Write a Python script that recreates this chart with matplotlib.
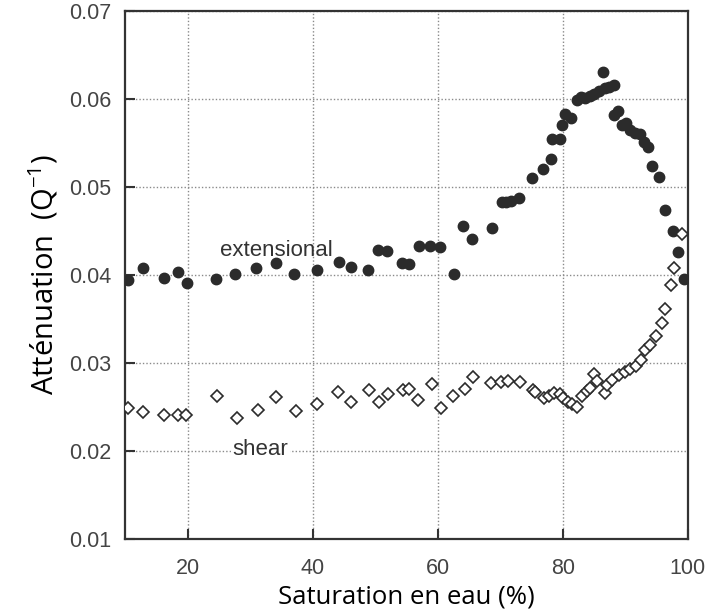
import numpy as np
import matplotlib
matplotlib.use('Agg')
import matplotlib.pyplot as plt

# extensional (points pleins)
ext_x = [10.4, 12.9, 16.2, 18.5, 19.9, 24.6, 27.6, 30.9, 34.2, 37.0,
         40.7, 44.2, 46.2, 48.8, 50.5, 51.9, 54.2, 55.4, 57.0, 58.8,
         60.3, 62.6, 64.0, 65.5, 68.6, 70.2, 70.9, 71.7, 73.0, 75.1,
         76.8, 78.1, 78.3, 79.6, 79.9, 80.4, 81.3, 82.2, 82.9, 83.6,
         84.3, 85.0, 85.8, 86.5, 86.7, 87.4, 88.1, 88.2, 88.8, 89.4,
         90.1, 90.8, 91.5, 92.4, 93.0, 93.6, 94.2, 95.4, 96.3, 97.6,
         98.4, 99.3]
ext_y = [0.0394, 0.0408, 0.0397, 0.0404, 0.0391, 0.0395, 0.0401, 0.0408, 0.0414, 0.0401,
         0.0406, 0.0415, 0.0409, 0.0406, 0.0428, 0.0427, 0.0414, 0.0413, 0.0433, 0.0433,
         0.0432, 0.0401, 0.0456, 0.0441, 0.0453, 0.0483, 0.0483, 0.0484, 0.0487, 0.0510,
         0.0520, 0.0532, 0.0555, 0.0555, 0.0571, 0.0583, 0.0578, 0.0599, 0.0602, 0.0601,
         0.0604, 0.0606, 0.0609, 0.0631, 0.0613, 0.0614, 0.0616, 0.0582, 0.0586, 0.0571,
         0.0573, 0.0565, 0.0562, 0.0560, 0.0551, 0.0545, 0.0524, 0.0511, 0.0474, 0.0450,
         0.0426, 0.0396]

# shear (losanges vides)
sh_x = [10.4, 12.9, 16.2, 18.5, 19.8, 24.7, 27.9, 31.3, 34.2, 37.3,
        40.7, 44.0, 46.2, 49.0, 50.6, 52.1, 54.5, 55.4, 56.9, 59.0,
        60.5, 62.5, 64.3, 65.6, 68.5, 70.1, 71.2, 73.1, 75.2, 75.5,
        77.0, 77.8, 78.6, 79.6, 80.1, 80.9, 81.5, 82.3, 83.1, 83.9,
        84.3, 85.0, 85.4, 86.7, 87.1, 87.9, 89.0, 90.0, 90.8, 91.7,
        92.5, 93.2, 94.0, 94.9, 95.8, 96.3, 97.3, 97.8, 99.0]
sh_y = [0.0249, 0.0244, 0.0241, 0.0241, 0.0241, 0.0263, 0.0238, 0.0247, 0.0261, 0.0246,
        0.0254, 0.0267, 0.0256, 0.0269, 0.0256, 0.0265, 0.0269, 0.0271, 0.0258, 0.0276,
        0.0249, 0.0262, 0.0271, 0.0284, 0.0277, 0.0279, 0.0280, 0.0279, 0.0269, 0.0267,
        0.0260, 0.0262, 0.0266, 0.0265, 0.0260, 0.0256, 0.0254, 0.0250, 0.0262, 0.0268,
        0.0272, 0.0287, 0.0280, 0.0266, 0.0275, 0.0281, 0.0286, 0.0290, 0.0293, 0.0297,
        0.0303, 0.0315, 0.0321, 0.0331, 0.0346, 0.0361, 0.0389, 0.0408, 0.0447]

x_ticks = [20, 40, 60, 80, 100]
y_ticks = [0.01, 0.02, 0.03, 0.04, 0.05, 0.06, 0.07]

plt.rcParams['mathtext.default'] = 'regular'

fig = plt.figure(figsize=(7.07, 6.16), dpi=100)
ax = fig.add_axes([0.177, 0.125, 0.796, 0.857])

ax.plot(ext_x, ext_y, 'o', ms=7.5, color='#2b2b2b', mec='#2b2b2b', zorder=3)
ax.plot(sh_x, sh_y, 'D', ms=5.8, mfc='white', mec='#2b2b2b', mew=1.2, zorder=3)

ax.set_xlim(10, 100)
ax.set_ylim(0.01, 0.07)
ax.set_xticks(x_ticks)
ax.set_yticks(y_ticks)
ax.set_yticklabels(['%.2f' % v for v in y_ticks])
ax.grid(True, linestyle=(0, (1, 1.5)), color='#8a8a8a', linewidth=1)
ax.set_axisbelow(True)
for s in ax.spines.values():
    s.set_linewidth(1.6)
    s.set_color('#333333')
ax.tick_params(direction='in', length=7, width=1.5, color='#333333',
               labelsize=15.5, labelcolor='#444444')
ax.tick_params(axis='x', pad=14)
ax.tick_params(axis='y', pad=10)
for lab in ax.get_xticklabels() + ax.get_yticklabels():
    lab.set_family('Liberation Sans')

ax.text(25.2, 0.0428, 'extensional', fontsize=16, family='Liberation Sans',
        color='#333333', va='center', ha='left')
ax.text(27.2, 0.0202, 'shear', fontsize=16, family='Liberation Sans',
        color='#333333', va='center', ha='left',
        bbox=dict(facecolor='white', edgecolor='none', pad=1))

ax.set_xlabel('Saturation en eau (%)', fontsize=18.5, family='Open Sans', labelpad=4)
ax.set_ylabel('Atténuation  (Q$^{-1}$)', fontsize=21, family='Open Sans', labelpad=6)

fig.savefig('out.png', dpi=100)
